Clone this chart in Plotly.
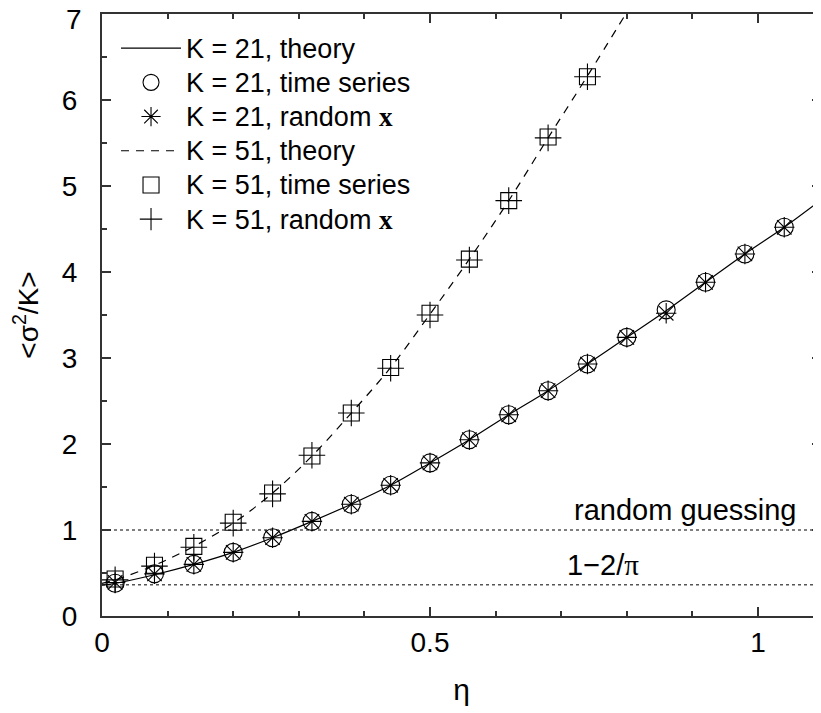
import plotly.graph_objects as go

# eta values of the simulations
eta_21 = [0.02, 0.08, 0.14, 0.20, 0.26, 0.32, 0.38, 0.44, 0.50, 0.56,
          0.62, 0.68, 0.74, 0.80, 0.86, 0.92, 0.98, 1.04, 1.10]
eta_51 = [0.02, 0.08, 0.14, 0.20, 0.26, 0.32, 0.38, 0.44, 0.50, 0.56,
          0.62, 0.68, 0.74]

# <sigma^2/K>
ts_21 = [0.38, 0.49, 0.60, 0.74, 0.91, 1.10, 1.30, 1.52, 1.78, 2.05,
         2.34, 2.62, 2.93, 3.24, 3.56, 3.88, 4.21, 4.52, 4.86]
rx_21 = [0.39, 0.49, 0.60, 0.74, 0.91, 1.10, 1.30, 1.52, 1.78, 2.05,
         2.34, 2.62, 2.93, 3.24, 3.52, 3.88, 4.21, 4.52, 4.86]
ts_51 = [0.43, 0.59, 0.81, 1.09, 1.43, 1.86, 2.36, 2.89, 3.52, 4.15,
         4.83, 5.57, 6.27]
rx_51 = [0.42, 0.58, 0.80, 1.08, 1.42, 1.87, 2.36, 2.88, 3.50, 4.14,
         4.83, 5.56, 6.27]

# theory curves
theory_eta_21 = [0.0] + eta_21
theory_21 = [0.36, 0.38, 0.48, 0.60, 0.74, 0.91, 1.10, 1.30, 1.52, 1.78, 2.05,
             2.34, 2.62, 2.93, 3.24, 3.55, 3.88, 4.21, 4.52, 4.86]
theory_eta_51 = [0.0] + eta_51 + [0.80]
theory_51 = [0.38, 0.42, 0.59, 0.81, 1.08, 1.43, 1.86, 2.36, 2.89, 3.51, 4.15,
             4.83, 5.56, 6.28, 7.02]

# horizontal reference levels
ref_levels = [1.0, 0.363]
ref_labels = ["random guessing", "1\u22122/<span style='font-family:Liberation Serif'>\u03c0</span>"]

# y tick labels; the top one is drawn as an annotation so it is not cut at the page top
y_ticks = [0, 1, 2, 3, 4, 5, 6, 7]
y_ticktext = ["0", "1", "2", "3", "4", "5", "6", ""]

FONT = "Liberation Sans, Arial, sans-serif"
BOLDX = "<b><span style='font-family:Liberation Serif'>x</span></b>"


def leg(text):
    """legend label a bit larger than the legend row height"""
    return "<span style='font-size:27px'>" + text + "</span>"


fig = go.Figure()

fig.add_trace(go.Scatter(x=theory_eta_21, y=theory_21, mode="lines",
                         line=dict(color="black", width=1.2, shape="spline"),
                         name=leg("K = 21, theory")))
fig.add_trace(go.Scatter(x=eta_21, y=ts_21, mode="markers",
                         marker=dict(symbol="circle-open", size=18, color="black",
                                     line=dict(width=1.1)),
                         name=leg("K = 21, time series")))
fig.add_trace(go.Scatter(x=eta_21, y=rx_21, mode="markers",
                         marker=dict(symbol="asterisk-open", size=17, color="black",
                                     line=dict(width=1.1, color="black")),
                         name=leg("K = 21, random " + BOLDX)))
fig.add_trace(go.Scatter(x=theory_eta_51, y=theory_51, mode="lines",
                         line=dict(color="black", width=1.2, dash="8px,7px", shape="spline"),
                         name=leg("K = 51, theory")))
fig.add_trace(go.Scatter(x=eta_51, y=ts_51, mode="markers",
                         marker=dict(symbol="square-open", size=16, color="black",
                                     line=dict(width=1.1)),
                         name=leg("K = 51, time series")))
fig.add_trace(go.Scatter(x=eta_51, y=rx_51, mode="markers",
                         marker=dict(symbol="cross-thin-open", size=19, color="black",
                                     line=dict(width=1.1, color="black")),
                         name=leg("K = 51, random " + BOLDX)))

for lvl in ref_levels:
    fig.add_hline(y=lvl, line=dict(color="#555555", width=1.5, dash="dot"), layer="below")

fig.add_annotation(x=1.061, y=1.02, text=ref_labels[0], showarrow=False,
                   xanchor="right", yanchor="bottom", font=dict(size=29, color="black"))
fig.add_annotation(x=0.705, y=0.38, text=ref_labels[1], showarrow=False,
                   xanchor="left", yanchor="bottom", font=dict(size=29, color="black"))
fig.add_annotation(xref="paper", x=0, y=y_ticks[-1], text=str(y_ticks[-1]), showarrow=False,
                   xanchor="right", yanchor="middle", xshift=-19, yshift=-5, borderpad=0,
                   font=dict(size=28, color="black"))

axis_common = dict(showgrid=False, zeroline=False, showline=True, linecolor="#333333",
                   linewidth=2, mirror="allticks", ticks="inside", ticklen=9,
                   tickwidth=1.5, tickcolor="#333333", automargin=False,
                   ticklabeloverflow="allow",
                   tickfont=dict(size=28, color="black"))

fig.update_xaxes(range=[0, 1.096], tickvals=[0, 0.5, 1], ticktext=["0", "0.5", "1"],
                 minor=dict(dtick=0.1, tick0=0, ticks="inside", ticklen=5,
                            tickcolor="#333333", tickwidth=1.5),
                 title=dict(text="\u03b7", font=dict(size=30, color="black"), standoff=22),
                 **axis_common)
fig.update_yaxes(range=[0, 7], tickvals=y_ticks, ticktext=y_ticktext,
                 minor=dict(dtick=0.5, tick0=0, ticks="inside", ticklen=5,
                            tickcolor="#333333", tickwidth=1.5),
                 title=dict(text="&lt;\u03c3<sup>2</sup>/K&gt;", font=dict(size=28, color="black"),
                            standoff=20),
                 ticklabelstandoff=17,
                 **axis_common)

# the page body adds an 8px offset, margins compensate for it
fig.update_layout(width=821, height=713,
                  margin=dict(l=94, r=8, t=6, b=105),
                  plot_bgcolor="white", paper_bgcolor="white",
                  font=dict(family=FONT, color="black"),
                  showlegend=True,
                  legend=dict(x=0.0195, y=0.98, xanchor="left", yanchor="top",
                              bgcolor="rgba(0,0,0,0)", font=dict(size=24),
                              itemwidth=60, tracegroupgap=0))

fig.write_html("out.html")
